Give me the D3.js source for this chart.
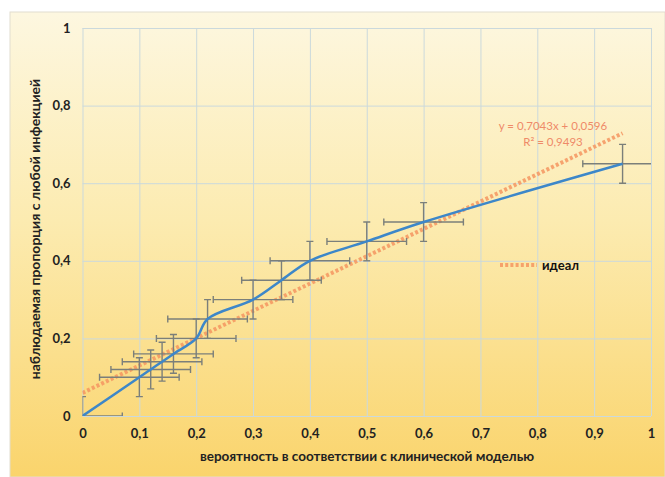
<!DOCTYPE html>
<html>
<head>
<meta charset="utf-8">
<script src="https://cdn.jsdelivr.net/npm/d3@7"></script>
<style>
  body { margin: 0; background: #fff; }
  text { font-family: Lato, "Open Sans", sans-serif; }
</style>
</head>
<body>
<div id="chart"></div>
<script>
// наблюдаемые точки
const probX = [0, 0.1, 0.12, 0.14, 0.16, 0.2, 0.22, 0.3, 0.35, 0.4, 0.5, 0.6, 0.95];
const obsY = [0, 0.1, 0.12, 0.14, 0.16, 0.2, 0.25, 0.3, 0.35, 0.4, 0.45, 0.5, 0.65];
const errX = [0.07, 0.07, 0.07, 0.07, 0.07, 0.07, 0.07, 0.07, 0.07, 0.07, 0.07, 0.07, 0.07];
const errY = [0.05, 0.05, 0.05, 0.05, 0.05, 0.05, 0.05, 0.05, 0.05, 0.05, 0.05, 0.05, 0.05];

// линия тренда
const trendX = [0, 0.95];
const trendY = [0.0596, 0.7287];
const trendLabel = ["y = 0,7043x + 0,0596", "R² = 0,9493"];
const legendLabel = "идеал";

const xTicks = [0, 0.1, 0.2, 0.3, 0.4, 0.5, 0.6, 0.7, 0.8, 0.9, 1];
const yTicks = [0, 0.2, 0.4, 0.6, 0.8, 1];
const xTitle = "вероятность в соответствии с клинической моделью";
const yTitle = "наблюдаемая пропорция с любой инфекцией";

const W = 665, H = 477;
const margin = { top: 28, right: 14, bottom: 61, left: 82.5 };
const width = W - margin.left - margin.right;
const height = H - margin.top - margin.bottom;

const fmt = d => String(d).replace(".", ",");

const svg = d3.select("#chart").append("svg")
    .attr("width", W)
    .attr("height", H);

const defs = svg.append("defs");
const grad = defs.append("linearGradient")
    .attr("id", "bg").attr("x1", 0).attr("y1", 0).attr("x2", 0).attr("y2", 1);
grad.append("stop").attr("offset", "0%").attr("stop-color", "#fdf7e0");
grad.append("stop").attr("offset", "45%").attr("stop-color", "#fcebb0");
grad.append("stop").attr("offset", "100%").attr("stop-color", "#fad46c");

defs.append("clipPath").attr("id", "plot")
    .append("rect").attr("width", width).attr("height", height);

// фон
svg.append("rect")
    .attr("x", 10).attr("y", 12)
    .attr("width", W - 10).attr("height", H - 12)
    .attr("fill", "url(#bg)")
    .attr("stroke", "#e2ddd0").attr("stroke-width", 1);

const g = svg.append("g")
    .attr("transform", `translate(${margin.left},${margin.top})`);

const x = d3.scaleLinear().domain([0, 1]).range([0, width]);
const y = d3.scaleLinear().domain([0, 1]).range([height, 0]);

// сетка
g.append("g")
    .call(d3.axisBottom(x).tickValues(xTicks).tickSize(-height).tickFormat(""))
    .attr("transform", `translate(0,${height})`)
    .call(a => a.select(".domain").remove())
    .selectAll("line").attr("stroke", "#cbd9dc").attr("stroke-width", 1);

g.append("g")
    .call(d3.axisLeft(y).tickValues(yTicks).tickSize(-width).tickFormat(""))
    .call(a => a.select(".domain").remove())
    .selectAll("line").attr("stroke", "#cbd9dc").attr("stroke-width", 1);

// подписи осей
const xAxis = g.append("g")
    .attr("transform", `translate(0,${height})`)
    .call(d3.axisBottom(x).tickValues(xTicks).tickSize(0).tickPadding(13).tickFormat(fmt));
xAxis.select(".domain").remove();
xAxis.selectAll("text")
    .attr("font-size", 13).attr("font-weight", "bold").attr("fill", "#222")
    .style("font-family", "Lato, sans-serif");

const yAxis = g.append("g")
    .call(d3.axisLeft(y).tickValues(yTicks).tickSize(0).tickPadding(12).tickFormat(fmt));
yAxis.select(".domain").remove();
yAxis.selectAll("text")
    .attr("font-size", 13).attr("font-weight", "bold").attr("fill", "#222")
    .style("font-family", "Lato, sans-serif");

svg.append("text")
    .attr("x", 367).attr("y", 461)
    .attr("text-anchor", "middle")
    .attr("font-size", 13.5).attr("font-weight", "bold").attr("fill", "#222")
    .text(xTitle);

svg.append("text")
    .attr("transform", "translate(40,229) rotate(-90)")
    .attr("text-anchor", "middle")
    .attr("font-size", 14).attr("font-weight", "bold").attr("fill", "#222")
    .text(yTitle);

const plot = g.append("g").attr("clip-path", "url(#plot)");

// линия тренда
const trend = trendX.map((d, i) => ({ x: d, y: trendY[i] }));
plot.append("path")
    .datum(trend)
    .attr("fill", "none")
    .attr("stroke", "#f59560")
    .attr("stroke-opacity", 0.85)
    .attr("stroke-width", 4)
    .attr("stroke-dasharray", "3,2.2")
    .attr("d", d3.line().x(d => x(d.x)).y(d => y(d.y)));

// точки с погрешностями
const points = probX.map((d, i) => ({ x: d, y: obsY[i], ex: errX[i], ey: errY[i] }));
const cap = 3.5;
const errG = plot.append("g")
    .attr("stroke", "#7b7f7a")
    .attr("stroke-width", 1.4);

points.forEach(p => {
    const cx = x(p.x), cy = y(p.y);
    const xl = x(p.x - p.ex), xr = x(p.x + p.ex);
    const yt = y(p.y + p.ey), yb = y(p.y - p.ey);
    errG.append("line").attr("x1", xl).attr("x2", xr).attr("y1", cy).attr("y2", cy);
    errG.append("line").attr("x1", xl).attr("x2", xl).attr("y1", cy - cap).attr("y2", cy + cap);
    errG.append("line").attr("x1", xr).attr("x2", xr).attr("y1", cy - cap).attr("y2", cy + cap);
    errG.append("line").attr("x1", cx).attr("x2", cx).attr("y1", yt).attr("y2", yb);
    errG.append("line").attr("x1", cx - cap).attr("x2", cx + cap).attr("y1", yt).attr("y2", yt);
    errG.append("line").attr("x1", cx - cap).attr("x2", cx + cap).attr("y1", yb).attr("y2", yb);
});

// сглаженная линия
plot.append("path")
    .datum(points)
    .attr("fill", "none")
    .attr("stroke", "#3d87c9")
    .attr("stroke-width", 2.5)
    .attr("d", d3.line().curve(d3.curveCatmullRom.alpha(0.5)).x(d => x(d.x)).y(d => y(d.y)));

// уравнение тренда
svg.append("text")
    .attr("x", 553).attr("y", 130)
    .attr("text-anchor", "middle")
    .attr("font-size", 11.5).attr("fill", "#ef8a68")
    .text(trendLabel[0]);
svg.append("text")
    .attr("x", 553).attr("y", 146)
    .attr("text-anchor", "middle")
    .attr("font-size", 11.5).attr("fill", "#ef8a68")
    .text(trendLabel[1]);

// легенда
svg.append("line")
    .attr("x1", 500).attr("x2", 537).attr("y1", 265).attr("y2", 265)
    .attr("stroke", "#f59560").attr("stroke-opacity", 0.85)
    .attr("stroke-width", 4).attr("stroke-dasharray", "3,2.2");
svg.append("text")
    .attr("x", 542).attr("y", 269.5)
    .attr("font-size", 13).attr("font-weight", "bold").attr("fill", "#111")
    .text(legendLabel);
</script>
</body>
</html>
